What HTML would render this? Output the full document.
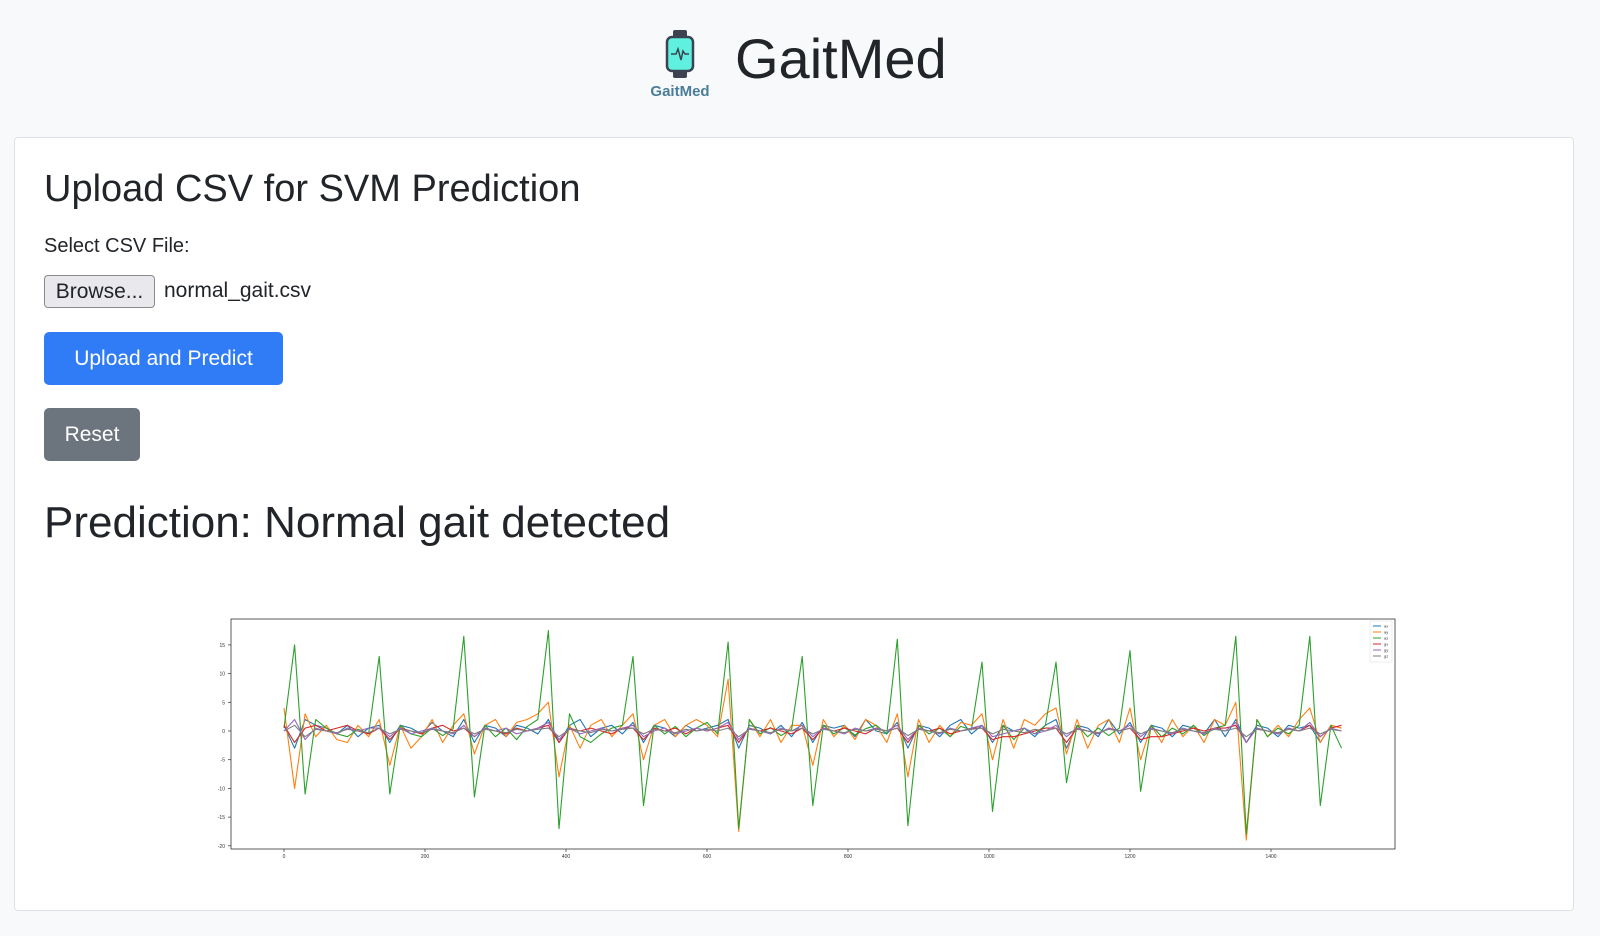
<!DOCTYPE html>
<html><head><meta charset="utf-8"><style>
body{margin:0;width:1600px;height:936px;background:#f8f9fa;font-family:"Liberation Sans",sans-serif;color:#212529;position:relative;overflow:hidden}
.abs{position:absolute}
.card{left:14px;top:137px;width:1558px;height:772px;background:#fff;border:1px solid #dee2e6;border-radius:4px}
.btn{position:absolute;color:#fff;font-size:21px;border-radius:5px;display:flex;align-items:center;justify-content:center}
</style></head><body>
<div class="abs" style="left:640px;top:28px;width:80px;height:75px">
<svg width="80" height="75">
<rect x="33" y="2" width="14" height="10" rx="2" fill="#3d4250"/><rect x="33" y="40" width="14" height="10" rx="2" fill="#3d4250"/>
<rect x="27" y="9" width="26" height="34" rx="5" fill="#5ff0e0" stroke="#3d4250" stroke-width="2.5"/>
<polyline points="31,26 36,26 38,21 41,32 43,23 45,26 49,26" fill="none" stroke="#3d4250" stroke-width="1.5"/>
<text x="40" y="68" text-anchor="middle" font-size="15" font-weight="bold" fill="#4a7d9a" font-family="Liberation Sans,sans-serif">GaitMed</text></svg></div>
<div class="abs" style="left:735px;top:26px;font-size:56px;font-weight:500">GaitMed</div>
<div class="abs card"></div>
<div class="abs" style="left:44px;top:168px;font-size:38px;font-weight:500">Upload CSV for SVM Prediction</div>
<div class="abs" style="left:44px;top:235px;font-size:20px">Select CSV File:</div>
<div class="abs" style="left:44px;top:275px;width:109px;height:31px;border:1px solid #8a8a8a;border-radius:4px;background:#e9e9ed;font-size:21px;display:flex;align-items:center;justify-content:center">Browse...</div>
<div class="abs" style="left:164px;top:279px;font-size:21px">normal_gait.csv</div>
<div class="btn" style="left:44px;top:332px;width:239px;height:53px;background:#2f7cf6">Upload and Predict</div>
<div class="btn" style="left:44px;top:408px;width:96px;height:53px;background:#6c757d">Reset</div>
<div class="abs" style="left:44px;top:498px;font-size:44px;font-weight:500">Prediction: Normal gait detected</div>
<svg id="chart" class="abs" style="left:0;top:0" width="1600" height="936"></svg>
<script>
const seriesNames=["ax","ay","az","gx","gy","gz"];
const colors=["#1f77b4","#ff7f0e","#2ca02c","#d62728","#9467bd","#7f7f7f"];
const xTicks=[0,200,400,600,800,1000,1200,1400];
const yTicks=[15,10,5,0,-5,-10,-15,-20];
const sampleStep=15;
const ax=[1,-3,2,1,0.5,-0.5,1,-1,0.5,1,-2,1,0.5,-0.5,1.5,0,-1,2,-2,1,0.5,-1,1,0.5,-0.5,2,-2,1,2,-1,0.5,1,-0.5,1.5,-2,1,0.5,-1,1,0,0.5,1,2,-3,1,0.5,-0.5,1,-1,1.5,-2,1,0.5,1,-1,2,0,-0.5,1.5,-3,1,0.5,-1,1,2,-0.5,1,-2,1,0,0.5,-1,1,2,-3,1,0.5,-1,2,-0.5,1.5,-2,1,0.5,-1,1,0.5,-0.5,2,-1,2,-2,1,0.5,-1,1,0.5,1,-2,1,0.5];
const ay=[4,-10,3,-1,1,-1.5,-2,1,-1,2,-6,1,-3,-1,2,-2,1,3,-4,1,2,-1,1.5,2,3,5,-8,1,-3,1,2,-1,1,3,-5,1,2,-1,1,2,1,-1,9,-17.5,2,-1,2,-2,1,1,-6,2,-1,1,-1.5,2,1,-2,3,-8,2,-2,1,-1,1.5,1,3,-5,2,-3,2,1,3,4,-4,2,-3,1,2,-2,4,-5,1,-2,2,-1,1,-2,2,1,5,-19,2,-1,1,-1,2,4,-2,1,0.5];
const az=[0.5,15,-11,2,0.5,-0.5,-1,0.3,-0.5,13,-11,1,-0.5,-1,0.5,-0.8,0.4,16.5,-11.5,1,-1,0.5,-1.5,0.8,2,17.5,-17,3,-1,-2,-0.5,0.5,1,13,-13,1,-0.5,0.8,-1,0.5,1.5,-0.5,15.5,-17,2,-0.5,0.6,-0.8,0.3,13,-13,1,-0.5,0.6,-0.7,0.4,1,-0.5,16,-16.5,1,-0.5,0.5,-1,0.8,0.2,12,-14,1,-1.5,0.5,-0.5,1,12,-9,1,-1,0.5,-0.8,0.5,14,-10.5,1,-1,0.5,-0.5,1,-0.8,0.5,1,16.5,-18,2,-1,0.5,-0.5,1,16.5,-13,1,-3];
const gx=[1,-2,0.5,1,0,0.5,1,0,-0.5,0.5,-1.5,0.5,0,-0.5,0.5,1,0,0.5,-1,0.5,0,-0.5,0.5,0,0.5,1,-2,0.5,0,0.5,0,-0.5,0.5,0.5,-1.5,0.5,0,0.5,-0.5,0.5,0,0.5,1,-2,0.5,0,0.5,0,-0.5,0.5,-1.5,0.5,0,0.5,0,-0.5,0.5,0,0.5,-2,0.5,0,0.5,-0.5,0,0.5,0.5,-1.5,-1,-1,-0.5,0,0.5,0.5,-2,0.5,0,-0.5,0.5,0,0.5,-1.5,-1,-1,-0.5,0,0.5,0,0.5,0.5,1,-2,0.5,0,-0.5,0.5,0,1,-1,0.5,1];
const gy=[0,2,-1.5,0.5,0,-0.5,0.5,0,0.5,0.5,-1,0.5,-0.5,0,0.5,0,-0.5,1,-1,0.5,0,0.5,-0.5,0,0.5,1.5,-1.5,0.5,-0.5,0,0.5,0,0.5,1,-1,0,0.5,-0.5,0,0.5,0,0.5,1.5,-1.5,0.5,0,-0.5,0.5,0,1,-1,0.5,0,-0.5,0.5,0,0.5,0,1,-1.5,0.5,0,-0.5,0.5,0,0.5,1,-1,-0.5,0,0.5,-0.5,0,1,-1,0.5,0,-0.5,0.5,0,1,-1,0.5,0,-0.5,0.5,0,-0.5,0.5,0,1.5,-2,0.5,0,-0.5,0.5,0,1.5,-1,0.5,0];
const gz=[0,1,-1,0.3,0,-0.3,0.3,0,-0.3,0.5,-0.5,0.3,0,-0.3,0.3,0,-0.3,0.5,-0.5,0.3,0,-0.3,0.3,0,0.3,0.5,-1,0.3,0,-0.3,0.3,0,0.3,0.5,-0.5,0.3,0,-0.3,0.3,0,0.3,0,0.5,-1,0.3,0,-0.3,0.3,0,0.5,-0.5,0.3,0,-0.3,0.3,0,0.3,0,0.5,-0.8,0.3,0,-0.3,0.3,0,0.3,0.5,-0.5,0.3,0,-0.3,0.3,0,0.5,-0.5,0.3,0,-0.3,0.3,0,0.5,-0.5,0.3,0,-0.3,0.3,0,-0.3,0.3,0,0.5,-1,0.3,0,-0.3,0.3,0,0.5,-0.5,0.3,0];
const data=[ax,ay,az,gx,gy,gz];
const NS="http://www.w3.org/2000/svg";
const svg=document.getElementById("chart");
const L=231,R=1395,T=619,B=849;
const xs=v=>284+(v/200)*141;
const ys=v=>731-(v/5)*28.7;
function mk(tag,attrs){const e=document.createElementNS(NS,tag);for(const k in attrs)e.setAttribute(k,attrs[k]);svg.appendChild(e);return e;}
const frame=mk("rect",{x:L,y:T,width:R-L,height:B-T,fill:"#fff",stroke:"#333","stroke-width":0.8});


xTicks.forEach(t=>{const l=mk("line",{x1:xs(t),x2:xs(t),y1:B,y2:B+3,stroke:"#333","stroke-width":0.7});


const tx=mk("text",{x:xs(t),y:B+9,"font-size":5,"text-anchor":"middle",fill:"#333"});tx.textContent=t;

});
yTicks.forEach(t=>{const l=mk("line",{x1:L-3,x2:L,y1:ys(t),y2:ys(t),stroke:"#333","stroke-width":0.7});


const tx=mk("text",{x:L-6,y:ys(t)+2,"font-size":5,"text-anchor":"end",fill:"#333"});tx.textContent=t;

});
data.forEach((s,k)=>{const pts=s.map((v,i)=>xs(i*sampleStep).toFixed(1)+","+ys(v).toFixed(1)).join(" ");
const p=mk("polyline",{points:pts,fill:"none",stroke:colors[k],"stroke-width":1.1,"stroke-linejoin":"round"});

});
const lg=mk("rect",{x:1370,y:621,width:22,height:41,fill:"#fff",stroke:"#ddd","stroke-width":0.5});


seriesNames.forEach((n,k)=>{const y=626+k*6;
const l=mk("line",{x1:1373,x2:1381,y1:y,y2:y,stroke:colors[k],"stroke-width":1});


const t=mk("text",{x:1384,y:y+1.5,"font-size":4,fill:"#333"});t.textContent=n;

});
</script>
</body></html>
